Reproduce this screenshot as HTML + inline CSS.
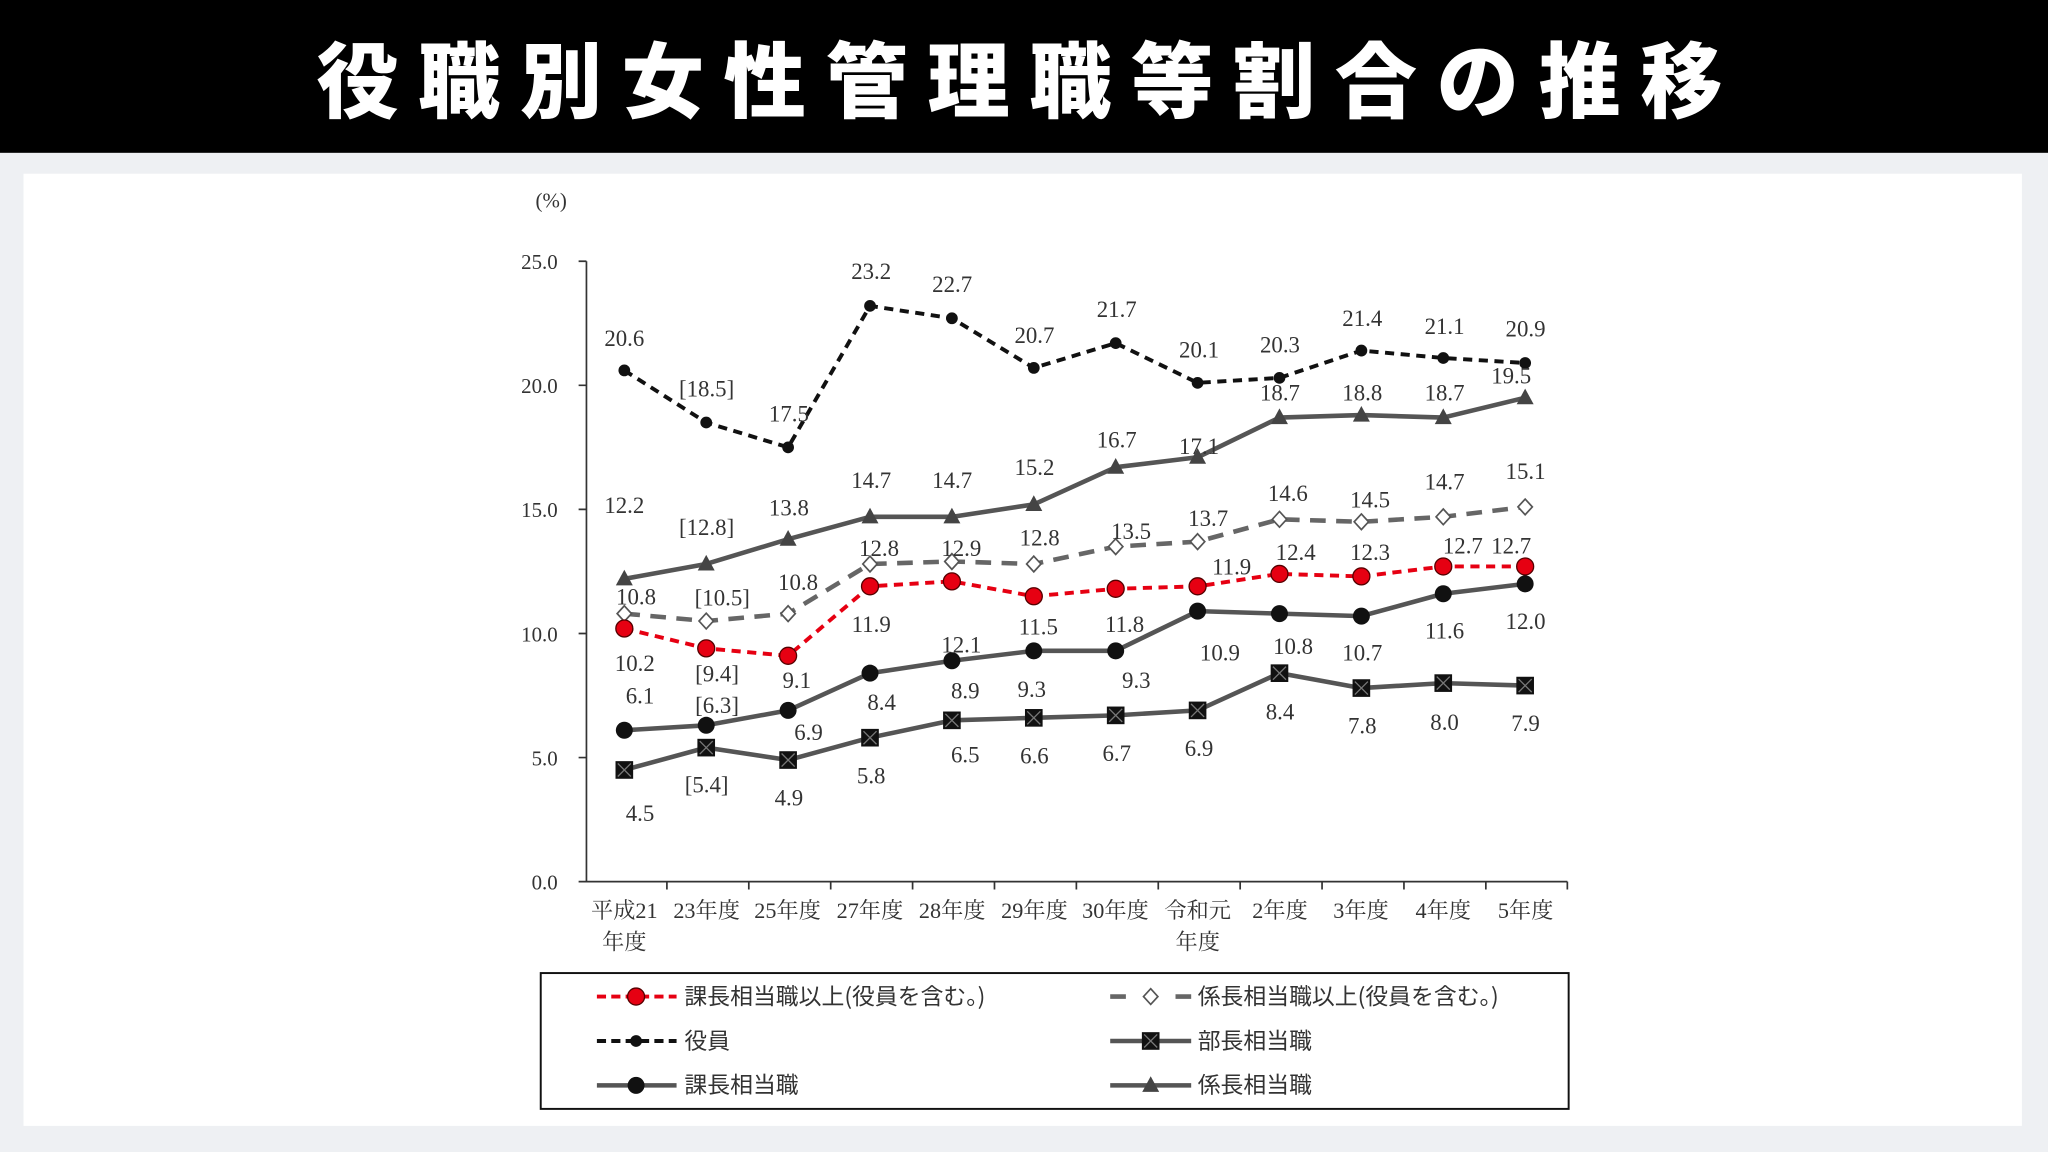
<!DOCTYPE html>
<html><head><meta charset="utf-8"><style>
html,body{margin:0;padding:0;background:#eef0f3;}
svg{display:block}
</style></head><body>
<svg width="2048" height="1152" viewBox="0 0 1568 882" xmlns="http://www.w3.org/2000/svg">
<defs>
<g id="sq"><rect x="-6" y="-6" width="12" height="12" fill="#111" stroke="#111" stroke-width="1.5"/><path d="M-5 -5L5 5M5 -5L-5 5" stroke="#777" stroke-width="1"/></g>
<g id="ci"><circle r="6.5" fill="#111"/></g>
<g id="dot"><circle r="4.5" fill="#111"/></g>
<g id="rd"><circle r="6.5" fill="#e60012" stroke="#500" stroke-width="1"/></g>
<g id="tr"><path d="M0 -7L6.5 5H-6.5Z" fill="#444"/></g>
<g id="dm"><path d="M0 -6L5.5 0L0 6L-5.5 0Z" fill="#fff" stroke="#555" stroke-width="1.3"/></g>
</defs>
<rect x="0" y="0" width="1568" height="882" fill="#eef0f3"/>
<rect x="0" y="0" width="1568" height="117" fill="#000"/>
<text x="788" y="85" text-anchor="middle" fill="#fff" font-family="'Noto Sans CJK JP',sans-serif" font-weight="900" font-size="63" letter-spacing="15">役職別女性管理職等割合の推移</text>
<rect x="18" y="133" width="1530" height="729" fill="#fff"/>

<g font-family="'Liberation Serif','Noto Serif CJK SC',serif" font-size="16" fill="#333">
<text x="422" y="159" text-anchor="middle">(%)</text>
<g text-anchor="end">
<text x="427" y="206">25.0</text><text x="427" y="301">20.0</text><text x="427" y="396">15.0</text>
<text x="427" y="491">10.0</text><text x="427" y="586">5.0</text><text x="427" y="681">0.0</text>
</g>
</g>
<g stroke="#333" stroke-width="1.3" fill="none">
<path d="M449 200V675H1200"/>
<path d="M443 200H449M443 295H449M443 390H449M443 485H449M443 580H449M443 675H449"/>
<path d="M510.6 675v6M573.3 675v6M636 675v6M698.7 675v6M761.4 675v6M824.1 675v6M886.8 675v6M949.5 675v6M1012.2 675v6M1074.9 675v6M1137.6 675v6M1200 675v6"/>
</g>
<g font-family="'Liberation Serif','Noto Serif CJK JP',serif" font-size="17" fill="#333" text-anchor="middle">
<text x="478" y="703">平成21</text><text x="478" y="727">年度</text>
<text x="541" y="703">23年度</text><text x="603" y="703">25年度</text><text x="666" y="703">27年度</text>
<text x="729" y="703">28年度</text><text x="792" y="703">29年度</text><text x="854" y="703">30年度</text>
<text x="917" y="703">令和元</text><text x="917" y="727">年度</text>
<text x="980" y="703">2年度</text><text x="1042" y="703">3年度</text><text x="1105" y="703">4年度</text><text x="1168" y="703">5年度</text>
</g>

<g fill="none" stroke-linejoin="round">
<polyline stroke="#111" stroke-width="3" stroke-dasharray="7,5" points="478,283.6 540.7,323.5 603.4,342.5 666.1,234.2 728.8,243.7 791.5,281.7 854.2,262.7 916.9,293.1 979.6,289.3 1042.3,268.4 1105,274.1 1167.7,277.9"/>
<polyline stroke="#555" stroke-width="3.5" points="478,443.2 540.7,431.8 603.4,412.8 666.1,395.7 728.8,395.7 791.5,386.2 854.2,357.7 916.9,350.1 979.6,319.7 1042.3,317.8 1105,319.7 1167.7,304.5"/>
<polyline stroke="#666" stroke-width="3.5" stroke-dasharray="12,8" points="478,469.8 540.7,475.5 603.4,469.8 666.1,431.8 728.8,429.9 791.5,431.8 854.2,418.5 916.9,414.7 979.6,397.6 1042.3,399.5 1105,395.7 1167.7,388.1"/>
<polyline stroke="#e60012" stroke-width="3" stroke-dasharray="7,5" points="478,481.2 540.7,496.4 603.4,502.1 666.1,448.9 728.8,445.1 791.5,456.5 854.2,450.8 916.9,448.9 979.6,439.4 1042.3,441.3 1105,433.7 1167.7,433.7"/>
<polyline stroke="#555" stroke-width="3.5" points="478,559.1 540.7,555.3 603.4,543.9 666.1,515.4 728.8,505.9 791.5,498.3 854.2,498.3 916.9,467.9 979.6,469.8 1042.3,471.7 1105,454.6 1167.7,447"/>
<polyline stroke="#555" stroke-width="3.5" points="478,589.5 540.7,572.4 603.4,581.9 666.1,564.8 728.8,551.5 791.5,549.6 854.2,547.7 916.9,543.9 979.6,515.4 1042.3,526.8 1105,523 1167.7,524.9"/>
</g>
<g>
<use href="#dot" x="478" y="283.6"/><use href="#dot" x="540.7" y="323.5"/><use href="#dot" x="603.4" y="342.5"/><use href="#dot" x="666.1" y="234.2"/><use href="#dot" x="728.8" y="243.7"/><use href="#dot" x="791.5" y="281.7"/><use href="#dot" x="854.2" y="262.7"/><use href="#dot" x="916.9" y="293.1"/><use href="#dot" x="979.6" y="289.3"/><use href="#dot" x="1042.3" y="268.4"/><use href="#dot" x="1105" y="274.1"/><use href="#dot" x="1167.7" y="277.9"/>
<use href="#tr" x="478" y="443.2"/><use href="#tr" x="540.7" y="431.8"/><use href="#tr" x="603.4" y="412.8"/><use href="#tr" x="666.1" y="395.7"/><use href="#tr" x="728.8" y="395.7"/><use href="#tr" x="791.5" y="386.2"/><use href="#tr" x="854.2" y="357.7"/><use href="#tr" x="916.9" y="350.1"/><use href="#tr" x="979.6" y="319.7"/><use href="#tr" x="1042.3" y="317.8"/><use href="#tr" x="1105" y="319.7"/><use href="#tr" x="1167.7" y="304.5"/>
<use href="#dm" x="478" y="469.8"/><use href="#dm" x="540.7" y="475.5"/><use href="#dm" x="603.4" y="469.8"/><use href="#dm" x="666.1" y="431.8"/><use href="#dm" x="728.8" y="429.9"/><use href="#dm" x="791.5" y="431.8"/><use href="#dm" x="854.2" y="418.5"/><use href="#dm" x="916.9" y="414.7"/><use href="#dm" x="979.6" y="397.6"/><use href="#dm" x="1042.3" y="399.5"/><use href="#dm" x="1105" y="395.7"/><use href="#dm" x="1167.7" y="388.1"/>
<use href="#rd" x="478" y="481.2"/><use href="#rd" x="540.7" y="496.4"/><use href="#rd" x="603.4" y="502.1"/><use href="#rd" x="666.1" y="448.9"/><use href="#rd" x="728.8" y="445.1"/><use href="#rd" x="791.5" y="456.5"/><use href="#rd" x="854.2" y="450.8"/><use href="#rd" x="916.9" y="448.9"/><use href="#rd" x="979.6" y="439.4"/><use href="#rd" x="1042.3" y="441.3"/><use href="#rd" x="1105" y="433.7"/><use href="#rd" x="1167.7" y="433.7"/>
<use href="#ci" x="478" y="559.1"/><use href="#ci" x="540.7" y="555.3"/><use href="#ci" x="603.4" y="543.9"/><use href="#ci" x="666.1" y="515.4"/><use href="#ci" x="728.8" y="505.9"/><use href="#ci" x="791.5" y="498.3"/><use href="#ci" x="854.2" y="498.3"/><use href="#ci" x="916.9" y="467.9"/><use href="#ci" x="979.6" y="469.8"/><use href="#ci" x="1042.3" y="471.7"/><use href="#ci" x="1105" y="454.6"/><use href="#ci" x="1167.7" y="447"/>
<use href="#sq" x="478" y="589.5"/><use href="#sq" x="540.7" y="572.4"/><use href="#sq" x="603.4" y="581.9"/><use href="#sq" x="666.1" y="564.8"/><use href="#sq" x="728.8" y="551.5"/><use href="#sq" x="791.5" y="549.6"/><use href="#sq" x="854.2" y="547.7"/><use href="#sq" x="916.9" y="543.9"/><use href="#sq" x="979.6" y="515.4"/><use href="#sq" x="1042.3" y="526.8"/><use href="#sq" x="1105" y="523"/><use href="#sq" x="1167.7" y="524.9"/>
</g>
<g font-family="'Liberation Serif',serif" font-size="17.5" fill="#333" text-anchor="middle" dominant-baseline="central">
<text x="478" y="259">20.6</text><text x="541" y="298">[18.5]</text><text x="604" y="317">17.5</text><text x="667" y="208">23.2</text><text x="729" y="218">22.7</text><text x="792" y="257">20.7</text><text x="855" y="237">21.7</text><text x="918" y="268">20.1</text><text x="980" y="264">20.3</text><text x="1043" y="244">21.4</text><text x="1106" y="250">21.1</text><text x="1168" y="252">20.9</text>
<text x="478" y="387">12.2</text><text x="541" y="404">[12.8]</text><text x="604" y="389">13.8</text><text x="667" y="368">14.7</text><text x="729" y="368">14.7</text><text x="792" y="358">15.2</text><text x="855" y="337">16.7</text><text x="918" y="342">17.1</text><text x="980" y="301">18.7</text><text x="1043" y="301">18.8</text><text x="1106" y="301">18.7</text><text x="1157" y="288">19.5</text>
<text x="487" y="457">10.8</text><text x="553" y="458">[10.5]</text><text x="611" y="446">10.8</text><text x="673" y="420">12.8</text><text x="736" y="420">12.9</text><text x="796" y="412">12.8</text><text x="866" y="407">13.5</text><text x="925" y="397">13.7</text><text x="986" y="378">14.6</text><text x="1049" y="383">14.5</text><text x="1106" y="369">14.7</text><text x="1168" y="361">15.1</text>
<text x="486" y="508">10.2</text><text x="549" y="516">[9.4]</text><text x="610" y="521">9.1</text><text x="667" y="478">11.9</text><text x="736" y="494">12.1</text><text x="795" y="480">11.5</text><text x="861" y="478">11.8</text><text x="943" y="434">11.9</text><text x="992" y="423">12.4</text><text x="1049" y="423">12.3</text><text x="1120" y="418">12.7</text><text x="1157" y="418">12.7</text>
<text x="490" y="533">6.1</text><text x="549" y="540">[6.3]</text><text x="619" y="561">6.9</text><text x="675" y="538">8.4</text><text x="739" y="529">8.9</text><text x="790" y="528">9.3</text><text x="870" y="521">9.3</text><text x="934" y="500">10.9</text><text x="990" y="495">10.8</text><text x="1043" y="500">10.7</text><text x="1106" y="483">11.6</text><text x="1168" y="476">12.0</text>
<text x="490" y="623">4.5</text><text x="541" y="601">[5.4]</text><text x="604" y="611">4.9</text><text x="667" y="594">5.8</text><text x="739" y="578">6.5</text><text x="792" y="579">6.6</text><text x="855" y="577">6.7</text><text x="918" y="573">6.9</text><text x="980" y="545">8.4</text><text x="1043" y="556">7.8</text><text x="1106" y="553">8.0</text><text x="1168" y="554">7.9</text>
</g>
<rect x="414" y="745" width="787" height="104" fill="#fff" stroke="#111" stroke-width="1.5"/>
<g fill="none">
<path d="M457 763H518" stroke="#e60012" stroke-width="3" stroke-dasharray="7,4"/>
<path d="M457 797H518" stroke="#111" stroke-width="3" stroke-dasharray="7,4"/>
<path d="M457 831H518" stroke="#555" stroke-width="3.5"/>
<path d="M850 763H862M900 763H912" stroke="#666" stroke-width="3.5"/>
<path d="M850 797H912" stroke="#555" stroke-width="3.5"/>
<path d="M850 831H912" stroke="#555" stroke-width="3.5"/>
</g>
<use href="#rd" x="487" y="763"/><use href="#dot" x="487" y="797"/><use href="#ci" x="487" y="831"/>
<use href="#dm" x="881" y="763"/><use href="#sq" x="881" y="797"/><use href="#tr" x="881" y="831"/>
<g font-family="'Noto Sans CJK JP',sans-serif" font-size="17.5" fill="#333">
<text x="524" y="769">課長相当職以上(役員を含む。)</text>
<text x="524" y="803">役員</text>
<text x="524" y="837">課長相当職</text>
<text x="917" y="769">係長相当職以上(役員を含む。)</text>
<text x="917" y="803">部長相当職</text>
<text x="917" y="837">係長相当職</text>
</g>
</svg>
</body></html>
